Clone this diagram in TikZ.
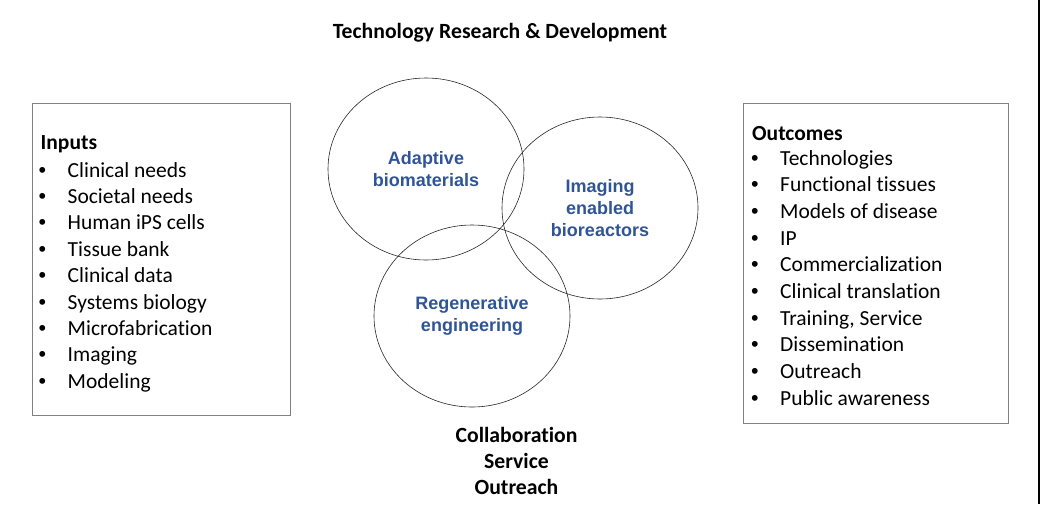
\documentclass[tikz,border=0pt]{standalone}
\usepackage{fontspec}
\setmainfont{Carlito}[Ligatures=NoCommon]
\newfontfamily\arialfont{Liberation Sans}
\usepackage{tikz}
\usetikzlibrary{shapes.geometric, positioning}
\definecolor{areablue}{HTML}{2F5597}
\definecolor{boxgray}{HTML}{808080}

\tikzset{
  listbox/.style={draw=boxgray, line width=0.9pt, inner sep=0pt},
  area/.style={draw=black!85, ellipse, line width=0.6pt, inner sep=0pt, minimum width=196pt, minimum height=182pt,
    align=center, text=areablue, font=\arialfont\bfseries\fontsize{18}{22}\selectfont},
  item/.style={anchor=base west, inner sep=0pt, font=\fontsize{21.5}{26}\selectfont},
  head/.style={anchor=base, inner sep=0pt, align=center, font=\bfseries\fontsize{21.7}{26}\selectfont},
}
\newcommand{\bul}{\makebox[29pt][l]{\arialfont\textbullet}}

\begin{document}
\begin{tikzpicture}[x=1pt, y=-1pt]
\useasboundingbox (0,0) rectangle (1040,504);

% Title
\node[head] (title) at (500,38) {Technology Research \& Development};

% Boxes for inputs and outcomes
\node[listbox, minimum width=258pt, minimum height=312pt] (inbox) at (161,259) {};
\node[listbox, minimum width=265pt, minimum height=320pt] (outbox) at (875.5,263) {};

% Three overlapping areas
\node[area] (adaptive) at (426,169) {Adaptive\\biomaterials};
\node[area] (imaging) at (600,208) {Imaging\\enabled\\bioreactors};
\node[area] (regen) at (472,316) {Regenerative\\engineering};

% Inputs list
\node[item, font=\bfseries\fontsize{21.5}{26}\selectfont] (inhead) at (40.5,149) {Inputs};
\node[item] (in1) at (38.5,177) {\bul Clinical needs};
\node[item] (in2) at (38.5,203.4) {\bul Societal needs};
\node[item] (in3) at (38.5,229.8) {\bul Human iPS cells};
\node[item] (in4) at (38.5,256.2) {\bul Tissue bank};
\node[item] (in5) at (38.5,282.6) {\bul Clinical data};
\node[item] (in6) at (38.5,309) {\bul Systems biology};
\node[item] (in7) at (38.5,335.4) {\bul Microfabrication};
\node[item] (in8) at (38.5,361.8) {\bul Imaging};
\node[item] (in9) at (38.5,388.2) {\bul Modeling};

% Outcomes list
\node[item, font=\bfseries\fontsize{21.5}{26}\selectfont] (outhead) at (752,140) {Outcomes};
\node[item] (out1) at (751,165) {\bul Technologies};
\node[item] (out2) at (751,191.7) {\bul Functional tissues};
\node[item] (out3) at (751,218.4) {\bul Models of disease};
\node[item] (out4) at (751,245.1) {\bul IP};
\node[item] (out5) at (751,271.8) {\bul Commercialization};
\node[item] (out6) at (751,298.5) {\bul Clinical translation};
\node[item] (out7) at (751,325.2) {\bul Training, Service};
\node[item] (out8) at (751,351.9) {\bul Dissemination};
\node[item] (out9) at (751,378.6) {\bul Outreach};
\node[item] (out10) at (751,405.3) {\bul Public awareness};

% Bottom labels
\node[head] (collab) at (516.5,442) {Collaboration};
\node[head] (service) at (516.5,468) {Service};
\node[head] (outreach) at (516.5,494) {Outreach};

% Right edge
\draw[line width=1.5pt] (1038.8,0) -- (1038.8,504);
\end{tikzpicture}
\end{document}
